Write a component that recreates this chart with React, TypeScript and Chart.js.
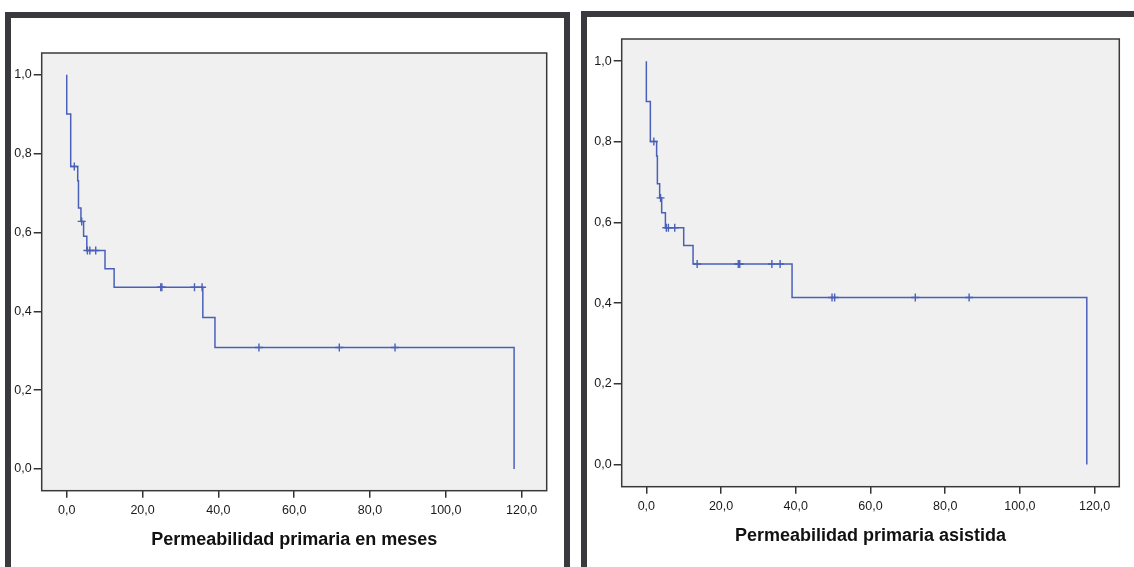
import React, { useEffect, useRef } from "react";
import { Chart, registerables } from "chart.js";

Chart.register(...registerables);

// ---------- data ----------
const xTickValues = [0, 20, 40, 60, 80, 100, 120];
const yTickValues = [0, 0.2, 0.4, 0.6, 0.8, 1.0];

const leftTitle = "Permeabilidad primaria en meses";
const leftEventTimes = [0, 1.05, 2.9, 3.1, 3.75, 4.45, 5.3, 10.1, 12.5, 35.9, 39.1, 118.0];
const leftSurvival = [0.9, 0.767, 0.731, 0.662, 0.628, 0.59, 0.554, 0.508, 0.461, 0.384, 0.308, 0.0];
const leftCensorTimes = [2.0, 3.95, 5.45, 6.1, 7.65, 24.8, 25.1, 33.7, 35.7, 50.7, 71.9, 86.6];

const rightTitle = "Permeabilidad primaria asistida";
const rightEventTimes = [0, 1.07, 2.75, 2.95, 3.56, 4.1, 5.1, 10.0, 12.5, 39.0, 117.9];
const rightSurvival = [0.9, 0.801, 0.765, 0.696, 0.661, 0.624, 0.587, 0.543, 0.497, 0.414, 0.0];
const rightCensorTimes = [2.0, 3.8, 5.35, 5.9, 7.6, 13.6, 24.6, 25.0, 33.6, 35.8, 49.7, 50.4, 72.0, 86.4];

// ---------- helpers ----------
const fmt = (v: number) => v.toFixed(1).replace(".", ",");

function survivalAt(times: number[], surv: number[], t: number) {
  let s = 1;
  for (let i = 0; i < times.length; i++) if (times[i] <= t) s = surv[i];
  return s;
}

const boxPlugin = {
  id: "plotBox",
  beforeDraw(chart: any) {
    const { ctx, chartArea } = chart;
    const { left, top, right, bottom } = chartArea;
    ctx.save();
    ctx.fillStyle = "#f0f0f0";
    ctx.fillRect(left, top, right - left, bottom - top);
    ctx.restore();
  },
  afterDraw(chart: any) {
    const { ctx, chartArea } = chart;
    const { left, top, right, bottom } = chartArea;
    ctx.save();
    ctx.strokeStyle = "#3a3a3a";
    ctx.lineWidth = 1.5;
    ctx.strokeRect(left, top, right - left, bottom - top);
    ctx.restore();
  },
};

type PanelProps = {
  left: number;
  width: number;
  height: number;
  padTop: number;
  padRight: number;
  yAxisWidth: number;
  xAxisHeight: number;
  titlePad: number;
  title: string;
  eventTimes: number[];
  survival: number[];
  censorTimes: number[];
};

const LINE_COLOR = "#4a60b8";
const FONT = '"Liberation Sans", Arial, sans-serif';

function Panel(p: PanelProps) {
  const ref = useRef<HTMLCanvasElement | null>(null);
  useEffect(() => {
    if (!ref.current) return;
    const curve = [{ x: 0, y: 1 }, ...p.eventTimes.map((t, i) => ({ x: t, y: p.survival[i] }))];
    const censors = p.censorTimes.map((t) => ({ x: t, y: survivalAt(p.eventTimes, p.survival, t) }));
    const chart = new Chart(ref.current, {
      type: "scatter",
      data: {
        datasets: [
          {
            type: "line",
            data: curve,
            stepped: "before",
            borderColor: LINE_COLOR,
            borderWidth: 1.5,
            pointRadius: 0,
            fill: false,
          } as any,
          {
            type: "scatter",
            data: censors,
            pointStyle: "cross",
            pointRadius: 4,
            borderColor: LINE_COLOR,
            borderWidth: 1.4,
            backgroundColor: LINE_COLOR,
          } as any,
        ],
      },
      options: {
        responsive: false,
        animation: false,
        events: [],
        layout: { padding: { left: 0, top: p.padTop, right: p.padRight, bottom: 0 } },
        plugins: { legend: { display: false }, tooltip: { enabled: false } },
        scales: {
          x: {
            type: "linear",
            min: -6.6,
            max: 126.6,
            afterBuildTicks: (s: any) => {
              s.ticks = xTickValues.map((v) => ({ value: v }));
            },
            afterFit: (s: any) => {
              s.height = p.xAxisHeight;
            },
            ticks: {
              callback: (v: any) => fmt(Number(v)),
              font: { family: FONT, size: 12.5 },
              color: "#1a1a1a",
              padding: 5,
              maxRotation: 0,
              autoSkip: false,
            },
            grid: { drawOnChartArea: false, drawTicks: true, tickLength: 7, color: "#333", lineWidth: 1.5 },
            border: { display: false },
            title: {
              display: true,
              text: p.title,
              font: { family: FONT, size: 18, weight: "bold" },
              color: "#111",
              padding: { top: 0, bottom: p.titlePad },
            },
          },
          y: {
            type: "linear",
            min: -0.055,
            max: 1.055,
            afterBuildTicks: (s: any) => {
              s.ticks = yTickValues.map((v) => ({ value: v }));
            },
            afterFit: (s: any) => {
              s.width = p.yAxisWidth;
            },
            ticks: {
              callback: (v: any) => fmt(Number(v)),
              font: { family: FONT, size: 12.5 },
              color: "#1a1a1a",
              padding: 2,
              autoSkip: false,
            },
            grid: { drawOnChartArea: false, drawTicks: true, tickLength: 8, color: "#333", lineWidth: 1.5 },
            border: { display: false },
          },
        },
      } as any,
      plugins: [boxPlugin],
    });
    return () => chart.destroy();
  }, []);
  return (
    <canvas
      ref={ref}
      width={p.width}
      height={p.height}
      style={{ position: "absolute", left: p.left, top: 0, width: p.width, height: p.height }}
    />
  );
}

export default function App() {
  return (
    <div
      style={{
        position: "absolute",
        left: 0,
        top: 0,
        width: 1134,
        height: 567,
        background: "#fff",
        overflow: "hidden",
      }}
    >
      <div
        style={{
          position: "absolute",
          left: 5,
          top: 12,
          width: 553,
          height: 600,
          border: "6px solid #3a3a3e",
        }}
      />
      <div
        style={{
          position: "absolute",
          left: 581,
          top: 11,
          width: 600,
          height: 600,
          border: "6px solid #3a3a3e",
        }}
      />
      <Panel
        left={0}
        width={570}
        height={567}
        padTop={53}
        padRight={23.3}
        yAxisWidth={41.7}
        xAxisHeight={76.3}
        titlePad={16.2}
        title={leftTitle}
        eventTimes={leftEventTimes}
        survival={leftSurvival}
        censorTimes={leftCensorTimes}
      />
      <Panel
        left={580}
        width={554}
        height={567}
        padTop={39}
        padRight={14.7}
        yAxisWidth={41.7}
        xAxisHeight={80.3}
        titlePad={20.2}
        title={rightTitle}
        eventTimes={rightEventTimes}
        survival={rightSurvival}
        censorTimes={rightCensorTimes}
      />
    </div>
  );
}
